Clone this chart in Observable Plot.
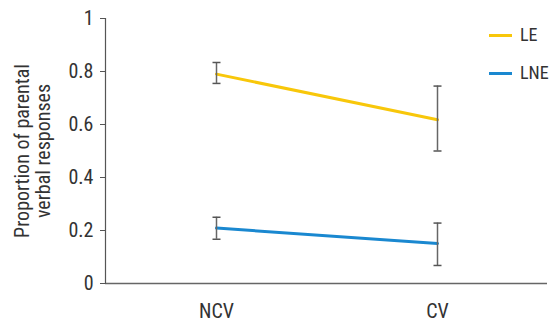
<!DOCTYPE html>
<html><head><meta charset="utf-8">
<script src="https://cdn.jsdelivr.net/npm/d3@7"></script>
<script src="https://cdn.jsdelivr.net/npm/@observablehq/plot@0.6"></script>
<style>
body{margin:0;background:#fff;}
#wrap{position:relative;width:550px;height:325px;font-family:Roboto,sans-serif;font-stretch:condensed;}
.leg{position:absolute;left:489px;font-size:18px;color:#333;display:flex;align-items:center;height:20px;line-height:20px;}
.leg span.sw{display:inline-block;width:23px;height:3px;margin-right:8px;}
</style></head>
<body><div id="wrap"></div>
<script>
const conditions = ["NCV", "CV"];
const groups = ["LE", "LNE"];
const colors = ["#F8C70A", "#1A88D0"];
const leValues = [0.79, 0.618];
const leLow = [0.755, 0.50];
const leHigh = [0.834, 0.745];
const lneValues = [0.209, 0.151];
const lneLow = [0.167, 0.068];
const lneHigh = [0.25, 0.228];
const yTicks = [0, 0.2, 0.4, 0.6, 0.8, 1];
const yLabel = "Proportion of parental\nverbal responses";

const rows = [];
conditions.forEach((c, i) => {
  rows.push({cond: c, group: "LE", v: leValues[i], lo: leLow[i], hi: leHigh[i]});
  rows.push({cond: c, group: "LNE", v: lneValues[i], lo: lneLow[i], hi: lneHigh[i]});
});
const caps = rows.flatMap(r => [{cond: r.cond, y: r.lo}, {cond: r.cond, y: r.hi}]);
const capSymbol = {draw(ctx, size) { const r = Math.sqrt(size / Math.PI); ctx.moveTo(-r, 0); ctx.lineTo(r, 0); }};

const chart = Plot.plot({
  width: 550, height: 325,
  marginLeft: 105, marginRight: 3, marginTop: 18, marginBottom: 42,
  style: {fontFamily: "Roboto, sans-serif", fontSize: "20px", color: "#333", background: "#fff"},
  x: {type: "point", domain: conditions, padding: 0.5, label: null},
  y: {domain: [0, 1], label: null},
  color: {domain: groups, range: colors},
  marks: [
    Plot.ruleY([0], {stroke: "#666", strokeWidth: 1.5}),
    Plot.frame({anchor: "left", stroke: "#555", strokeWidth: 1.2}),
    Plot.axisY({ticks: yTicks, tickFormat: d => String(d), tickSize: 5, tickPadding: 7, stroke: "#555", fontSize: 20, label: null}),
    Plot.axisX({tickSize: 0, tickPadding: 20, fontSize: 20, label: null}),
    Plot.text([yLabel], {frameAnchor: "left", textAnchor: "middle", rotate: -90, dx: -73, fontSize: 20, fill: "#333", lineHeight: 1.05}),
    Plot.line(rows, {x: "cond", y: "v", z: "group", stroke: "group", strokeWidth: 3}),
    Plot.ruleX(rows, {x: "cond", y1: "lo", y2: "hi", stroke: "#666", strokeWidth: 1.5}),
    Plot.dot(caps, {x: "cond", y: "y", symbol: capSymbol, r: 4, stroke: "#555", strokeWidth: 1.5, fill: "none"})
  ]
});
const wrap = document.getElementById("wrap");
wrap.appendChild(chart);
const legTops = [25, 63];
groups.forEach((g, i) => {
  const d = document.createElement("div");
  d.className = "leg";
  d.style.top = legTops[i] + "px";
  d.innerHTML = `<span class="sw" style="background:${colors[i]}"></span>${g}`;
  wrap.appendChild(d);
});
</script>
</body></html>
